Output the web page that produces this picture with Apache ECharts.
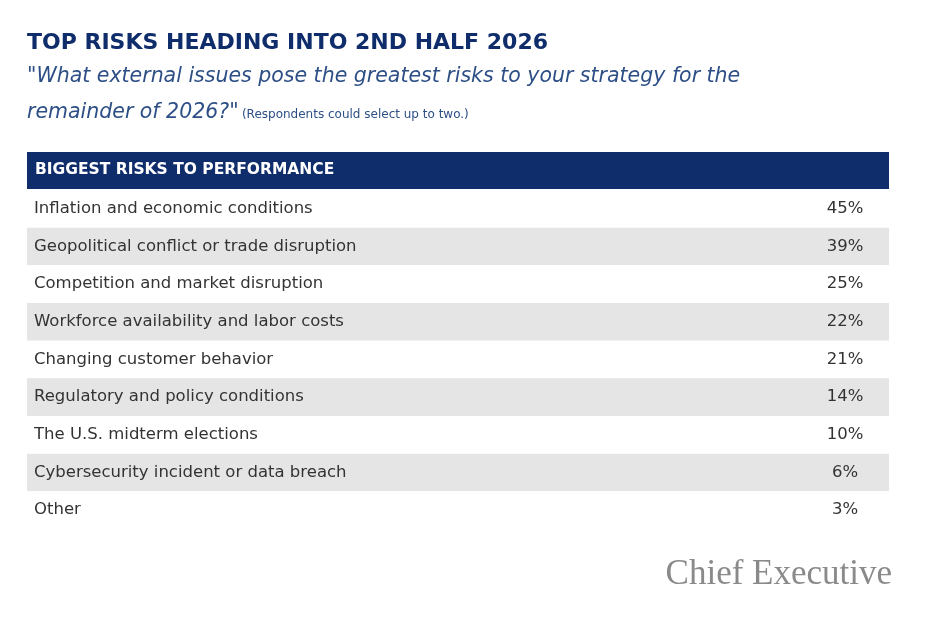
<!DOCTYPE html>
<html>
<head>
<meta charset="utf-8">
<script src="https://cdn.jsdelivr.net/npm/echarts@6/dist/echarts.min.js"></script>
<style>
  html, body { margin: 0; padding: 0; background: #fff; }
  #chart { width: 936px; height: 639px; }
</style>
</head>
<body>
<div id="chart"></div>
<script>
const risks = [
  'Inflation and economic conditions',
  'Geopolitical conflict or trade disruption',
  'Competition and market disruption',
  'Workforce availability and labor costs',
  'Changing customer behavior',
  'Regulatory and policy conditions',
  'The U.S. midterm elections',
  'Cybersecurity incident or data breach',
  'Other'
];
const shares = [45, 39, 25, 22, 21, 14, 10, 6, 3];

const navy = '#0f2d6b';
const font = 'DejaVu Sans';

var chart = echarts.init(document.getElementById('chart'));

var option = {
  animation: false,
  grid: { left: 27, right: 47, top: 190, height: 339 },
  xAxis: { type: 'value', min: 0, max: 1, show: false },
  yAxis: { type: 'category', data: risks, inverse: true, show: false },
  graphic: [
    { type: 'text', left: 27, top: 32,
      style: { text: 'TOP RISKS HEADING INTO 2ND HALF 2026', fill: navy, font: 'bold 22px "' + font + '"' } },
    { type: 'text', left: 27, top: 67,
      style: { text: '"What external issues pose the greatest risks to your strategy for the', fill: '#2d4f86', font: 'oblique 20.5px "' + font + '"' } },
    { type: 'text', left: 27, top: 103,
      style: { rich: {
        a: { fill: '#2d4f86', font: 'oblique 20.5px "' + font + '"' },
        b: { fill: '#2d4f86', font: '12px "' + font + '"', padding: [4, 0, 0, 0] }
      }, text: '{a|remainder of 2026?"} {b|(Respondents could select up to two.)}' } },
    { type: 'rect', shape: { x: 27, y: 152, width: 862, height: 37 }, style: { fill: navy } },
    { type: 'text', left: 35, top: 162,
      style: { text: 'BIGGEST RISKS TO PERFORMANCE', fill: '#fff', font: 'bold 15.5px "' + font + '"' } },
    { type: 'text', right: 44, top: 557,
      style: { text: 'Chief Executive', fill: '#8a8a8a', font: '35px "Liberation Serif"' } }
  ],
  series: [{
    type: 'custom',
    data: shares.map(function (v, i) { return [i, v]; }),
    encode: { y: 0 },
    renderItem: function (params, api) {
      var i = api.value(0);
      var p = api.coord([0, i]);
      var end = api.coord([1, i]);
      var h = api.size([0, 1])[1];
      var top = p[1] - h / 2;
      return {
        type: 'group',
        children: [
          { type: 'rect', shape: { x: p[0], y: top, width: end[0] - p[0], height: h },
            style: { fill: i % 2 === 1 ? '#e5e5e5' : '#ffffff' } },
          { type: 'text', x: p[0] + 7, y: p[1],
            style: { text: risks[i], fill: '#333', font: '16.5px "' + font + '"', verticalAlign: 'middle' } },
          { type: 'text', x: end[0] - 44, y: p[1],
            style: { text: api.value(1) + '%', fill: '#333', font: '16.5px "' + font + '"', align: 'center', verticalAlign: 'middle' } }
        ]
      };
    }
  }]
};
chart.setOption(option);
</script>
</body>
</html>
